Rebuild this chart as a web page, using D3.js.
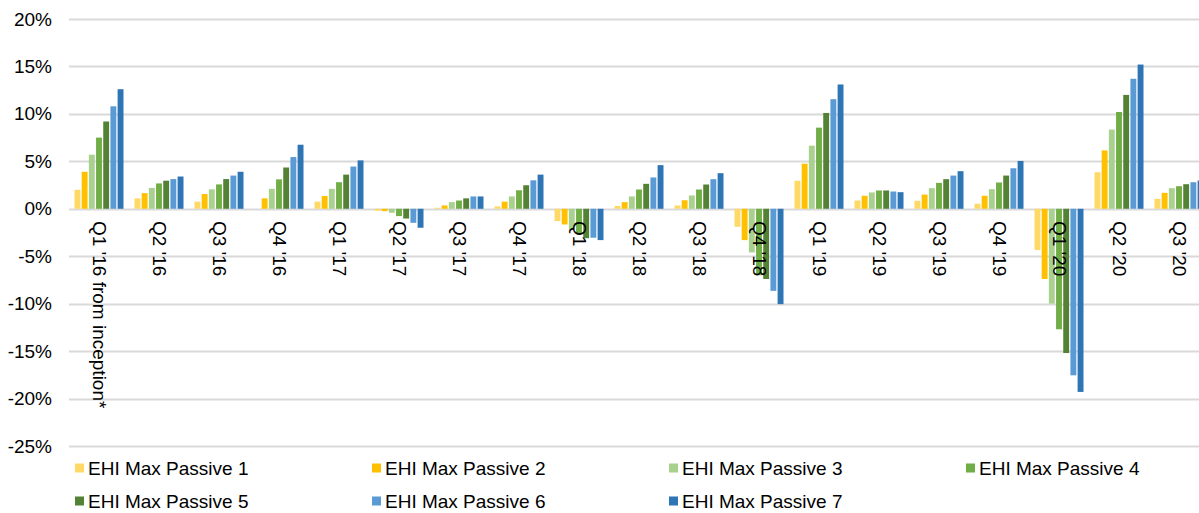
<!DOCTYPE html>
<html>
<head>
<meta charset="utf-8">
<script src="https://cdn.jsdelivr.net/npm/d3@7"></script>
<style>
  html, body { margin: 0; padding: 0; background: #fff; }
  svg { display: block; }
  text { font-family: "Liberation Sans", Arial, sans-serif; fill: #000; }
</style>
</head>
<body>
<div id="chart"></div>
<script>
// Quarterly returns (%) for the EHI Max Passive model portfolios
const categories = ["Q1 '16 from inception*", "Q2 '16", "Q3 '16", "Q4 '16", "Q1 '17", "Q2 '17", "Q3 '17", "Q4 '17",
  "Q1 '18", "Q2 '18", "Q3 '18", "Q4 '18", "Q1 '19", "Q2 '19", "Q3 '19", "Q4 '19", "Q1 '20", "Q2 '20", "Q3 '20"];

const seriesNames = ["EHI Max Passive 1", "EHI Max Passive 2", "EHI Max Passive 3", "EHI Max Passive 4",
  "EHI Max Passive 5", "EHI Max Passive 6", "EHI Max Passive 7"];

const passive1 = [2.0, 1.1, 0.75, 0.0, 0.75, -0.2, 0.1, 0.25, -1.3, 0.3, 0.35, -1.9, 2.95, 0.87, 0.84, 0.53, -4.35, 3.85, 1.05];
const passive2 = [3.9, 1.65, 1.55, 1.1, 1.35, -0.25, 0.35, 0.75, -1.65, 0.7, 0.9, -3.3, 4.75, 1.37, 1.5, 1.37, -7.4, 6.15, 1.68];
const passive3 = [5.7, 2.2, 2.05, 2.1, 2.1, -0.42, 0.7, 1.3, -2.2, 1.3, 1.4, -4.6, 6.65, 1.72, 2.17, 2.07, -10.0, 8.35, 2.17];
const passive4 = [7.5, 2.67, 2.57, 3.1, 2.8, -0.77, 0.87, 1.95, -2.7, 2.03, 2.03, -7.0, 8.55, 1.93, 2.73, 2.77, -12.7, 10.2, 2.38];
const passive5 = [9.2, 2.96, 3.13, 4.35, 3.6, -1.03, 1.1, 2.48, -3.1, 2.63, 2.56, -7.4, 10.1, 1.93, 3.12, 3.5, -15.2, 12.0, 2.59];
const passive6 = [10.8, 3.13, 3.5, 5.45, 4.45, -1.48, 1.3, 3.0, -3.05, 3.3, 3.12, -8.65, 11.55, 1.82, 3.5, 4.27, -17.55, 13.7, 2.8];
const passive7 = [12.6, 3.4, 3.9, 6.75, 5.1, -2.0, 1.3, 3.6, -3.3, 4.6, 3.75, -10.05, 13.1, 1.75, 3.96, 5.04, -19.3, 15.2, 2.98];

const yTicks = [20, 15, 10, 5, 0, -5, -10, -15, -20, -25];

const seriesValues = [passive1, passive2, passive3, passive4, passive5, passive6, passive7];
const colors = ["#FFD966", "#FFC000", "#A9D18E", "#70AD47", "#548235", "#5B9BD5", "#2E75B6"];

const W = 1199, H = 513;
const svg = d3.select("#chart").append("svg").attr("width", W).attr("height", H);

const y = d3.scaleLinear().domain([-25, 20]).range([446, 19]);
const x0 = d3.scaleBand().domain(categories).range([69, 69 + categories.length * 60]);
const x1 = d3.scaleBand().domain(seriesNames).range([5.5, 54.5]).paddingInner(0.18);

// horizontal gridlines
svg.append("g").selectAll("line").data(yTicks).join("line")
  .attr("x1", 69).attr("x2", W)
  .attr("y1", d => Math.round(y(d)) + 0.5).attr("y2", d => Math.round(y(d)) + 0.5)
  .attr("stroke", "#d9d9d9").attr("stroke-width", 2);

// y tick labels
svg.append("g").selectAll("text").data(yTicks).join("text")
  .attr("x", 52).attr("y", d => y(d))
  .attr("text-anchor", "end").attr("dominant-baseline", "central")
  .style("font-size", "19px")
  .text(d => d + "%");

// bars
const groups = svg.append("g").selectAll("g").data(categories).join("g")
  .attr("transform", d => `translate(${x0(d)},0)`);
groups.selectAll("rect")
  .data((c, i) => seriesValues.map((vals, s) => ({ s, v: vals[i] })))
  .join("rect")
  .attr("x", d => x1(seriesNames[d.s]))
  .attr("width", x1.bandwidth())
  .attr("y", d => y(Math.max(0, d.v)))
  .attr("height", d => Math.abs(y(d.v) - y(0)))
  .attr("fill", d => colors[d.s]);

// category labels, rotated to read downward
svg.append("g").selectAll("text").data(categories).join("text")
  .attr("transform", d => `translate(${x0(d) + x0.bandwidth() / 2},221) rotate(90)`)
  .attr("dominant-baseline", "central")
  .style("font-size", "19px")
  .text(d => d);

// legend: four columns, two rows
const legend = svg.append("g").selectAll("g").data(seriesNames).join("g")
  .attr("transform", (d, i) => `translate(${75 + (i % 4) * 297},${i < 4 ? 468 : 501})`);
legend.append("rect").attr("x", 0).attr("y", -4.5).attr("width", 9).attr("height", 9)
  .attr("fill", (d, i) => colors[i]);
legend.append("text").attr("x", 13).attr("y", 0)
  .attr("dominant-baseline", "central")
  .style("font-size", "19px")
  .text(d => d);
</script>
</body>
</html>
